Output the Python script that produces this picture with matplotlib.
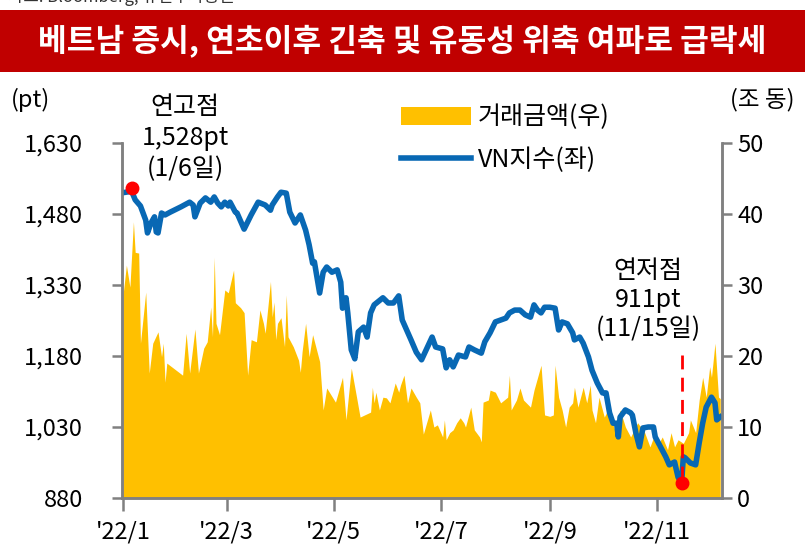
import numpy as np
import pandas as pd
import matplotlib
matplotlib.use("Agg")
import matplotlib.pyplot as plt
from matplotlib.patches import Patch, Rectangle
from matplotlib.lines import Line2D

plt.rcParams['font.family'] = ['Noto Sans CJK KR', 'DejaVu Sans']

# ── DATA (day = days since 2022-01-01) ───────────────────────────────────────
vn_day = [0, 5, 7, 10, 13, 14, 16, 18, 19, 20, 22, 24, 27, 33, 38, 40, 41, 44, 47, 50,
          52, 54, 56, 58, 60, 61, 64, 65, 69, 73, 77, 81, 84, 85, 88, 90, 93, 95, 98, 101,
          104, 106, 108, 109, 112, 114, 116, 119, 122, 124, 125, 127, 128, 130, 132, 134,
          137, 139, 141, 143, 148, 151, 154, 157, 159, 162, 164, 167, 170, 172, 176, 178,
          182, 184, 186, 188, 191, 195, 197, 200, 204, 206, 209, 212, 215, 218, 220, 223,
          226, 229, 232, 234, 236, 238, 240, 243, 246, 248, 250, 253, 256, 257, 260, 262,
          265, 267, 270, 273, 275, 277, 279, 281, 282, 283, 286, 289, 290, 292, 294, 296,
          299, 302, 303, 306, 309, 311, 314, 316, 318, 319, 320, 323, 326, 328, 330, 332,
          335, 337, 338, 340]
vn_val = [1525, 1528, 1510, 1497, 1467, 1440, 1461, 1474, 1442, 1440, 1482, 1478, 1484, 1495,
          1505, 1499, 1474, 1503, 1514, 1505, 1516, 1503, 1495, 1505, 1497, 1505, 1484, 1482,
          1448, 1478, 1505, 1499, 1488, 1499, 1516, 1526, 1524, 1484, 1461, 1478, 1446, 1415,
          1376, 1379, 1313, 1357, 1368, 1357, 1362, 1336, 1281, 1303, 1271, 1193, 1174, 1231,
          1241, 1220, 1271, 1288, 1303, 1292, 1292, 1307, 1256, 1231, 1214, 1188, 1172, 1188,
          1220, 1199, 1195, 1155, 1172, 1157, 1182, 1178, 1199, 1193, 1186, 1210, 1229, 1252,
          1256, 1260, 1271, 1277, 1277, 1267, 1262, 1288, 1277, 1271, 1283, 1283, 1281, 1235,
          1252, 1248, 1229, 1214, 1220, 1207, 1178, 1150, 1123, 1102, 1102, 1060, 1038, 1038,
          1009, 1051, 1066, 1060, 1055, 1017, 988, 1028, 1030, 1030, 1009, 988, 967, 950,
          956, 924, 911, 967, 965, 954, 950, 996, 1038, 1072, 1093, 1081, 1045, 1051]

vol_day = [0, 2, 4, 6, 7, 9, 10, 13, 15, 17, 20, 22, 23, 24, 25, 34, 36, 38, 41, 43, 46,
           48, 50, 51, 52, 53, 55, 58, 60, 63, 64, 67, 69, 71, 73, 76, 78, 80, 81, 84, 85,
           86, 87, 88, 90, 92, 93, 94, 97, 100, 101, 102, 104, 106, 108, 112, 114, 116, 121,
           125, 127, 130, 133, 135, 141, 142, 143, 144, 146, 148, 150, 152, 155, 157, 158,
           160, 162, 164, 167, 169, 171, 175, 177, 179, 182, 183, 184, 186, 188, 190, 192,
           194, 195, 198, 200, 203, 204, 205, 208, 209, 212, 215, 217, 219, 220, 221, 224,
           226, 228, 232, 234, 238, 240, 243, 245, 246, 248, 250, 252, 254, 256, 257, 259,
           262, 264, 266, 267, 269, 271, 274, 276, 280, 283, 286, 289, 293, 297, 300, 303,
           304, 307, 310, 312, 314, 316, 319, 322, 323, 326, 328, 330, 332, 334, 335, 337,
           338, 339, 340]
vol_val = [28.4, 32.8, 29.7, 38.9, 34.6, 34.5, 21.8, 29.0, 17.6, 21.8, 23.4, 19.9, 21.8,
           16.3, 19.0, 17.3, 23.2, 17.6, 23.8, 17.6, 21.1, 22.0, 26.9, 22.7, 33.9, 24.6, 23.0,
           29.3, 28.9, 32.1, 27.5, 26.8, 26.1, 17.3, 22.3, 22.0, 26.5, 24.6, 23.2, 30.5, 25.5,
           27.6, 22.3, 24.6, 25.4, 21.3, 28.6, 22.7, 21.3, 19.4, 17.7, 20.6, 24.6, 19.9, 23.0,
           19.2, 12.4, 15.5, 13.5, 17.0, 11.0, 18.3, 14.2, 11.4, 12.1, 15.6, 13.4, 14.9, 12.4,
           14.2, 14.1, 13.4, 16.2, 14.9, 15.9, 17.3, 13.4, 15.5, 14.2, 13.4, 9.0, 12.4, 10.0,
           10.3, 8.6, 11.0, 8.2, 9.2, 9.6, 10.6, 11.3, 10.6, 10.0, 12.8, 9.6, 8.6, 7.9, 13.5,
           13.8, 15.2, 14.9, 13.4, 13.8, 14.2, 17.3, 12.4, 13.8, 15.5, 13.8, 12.8, 15.2, 18.7,
           11.7, 11.5, 11.7, 18.7, 14.2, 12.4, 10.0, 12.8, 13.4, 15.6, 12.8, 15.6, 13.4, 15.9,
           12.4, 10.6, 14.2, 11.4, 12.4, 9.6, 12.4, 10.0, 8.6, 10.6, 9.2, 7.2, 9.2, 7.2, 8.6,
           6.8, 9.2, 7.2, 8.2, 7.7, 9.2, 11.0, 9.2, 13.8, 17.0, 14.2, 18.5, 17.0, 21.8, 18.0,
           14.2, 14.0]

HIGH_DAY, HIGH_VAL = 5, 1528
LOW_DAY, LOW_VAL = 318, 911

TITLE = "베트남 증시, 연초이후 긴축 및 유동성 위축 여파로 급락세"
TICK_MONTHS = [1, 3, 5, 7, 9, 11]
LEFT_TICKS = [880, 1030, 1180, 1330, 1480, 1630]
RIGHT_TICKS = [0, 10, 20, 30, 40, 50]

BASE = pd.Timestamp("2022-01-01")
def to_dates(days):
    return BASE + pd.to_timedelta(days, unit="D")

vn_dates = to_dates(vn_day)
vol_dates = to_dates(vol_day)

GOLD = "#FFC000"
BLUE = "#0868B4"
GRAY = "#808080"

# ── FIGURE ───────────────────────────────────────────────────────────────────
W, H = 805, 554
fig = plt.figure(figsize=(W/100, H/100), dpi=100)

# source line (cut off at top of picture, as in the original)
fig.text(8/W, 1 - 2/H, "자료: Bloomberg, 유진투자증권", fontsize=12, color="#333333",
         ha="left", va="baseline")

# red title banner
fig.patches.append(Rectangle((0, 1 - 72/H), 1, 62/H, transform=fig.transFigure,
                             facecolor="#C00000", edgecolor="none", zorder=0))
fig.text(0.5, 1 - 42/H, TITLE, fontsize=22.5, fontweight="bold", color="white",
         ha="center", va="center")

ax = fig.add_axes([122/W, 1 - 498/H, 600/W, 355/H])
ax2 = ax.twinx()

ax2.fill_between(vol_dates, vol_val, 0, color=GOLD, lw=0)
ax2.set_ylim(0, 50)
ax2.set_yticks(RIGHT_TICKS)

ax.plot(vn_dates, vn_val, color=BLUE, lw=4, solid_joinstyle="round")
ax.plot([to_dates([LOW_DAY])[0]] * 2, [1182, LOW_VAL], color="#FF0000", lw=2,
        ls=(0, (5, 3)), zorder=4)
ax.plot(to_dates([HIGH_DAY]), [HIGH_VAL + 6], "o", color="#FF0000", ms=9, zorder=5)
ax.plot(to_dates([LOW_DAY]), [LOW_VAL], "o", color="#FF0000", ms=9, zorder=5)
ax.set_ylim(880, 1630)
ax.set_yticks(LEFT_TICKS)
ax.set_yticklabels([f"{v:,}" for v in LEFT_TICKS])

ax.set_zorder(ax2.get_zorder() + 1)
ax.patch.set_visible(False)

ax.set_xlim(BASE - pd.Timedelta(hours=12), BASE + pd.Timedelta(days=341))
ax.set_xticks([pd.Timestamp(2022, m, 1) for m in TICK_MONTHS])
ax.set_xticklabels([f"'22/{m}" for m in TICK_MONTHS])

for a in (ax, ax2):
    a.spines["top"].set_visible(False)
    for s in ("left", "right", "bottom"):
        a.spines[s].set_color(GRAY)
        a.spines[s].set_linewidth(1.8)
ax.tick_params(axis="y", length=7, width=1.8, color=GRAY, labelsize=17, pad=21)
ax.tick_params(axis="x", length=9, width=1.8, color=GRAY, labelsize=17, pad=7)
ax2.tick_params(axis="y", length=7, width=1.8, color=GRAY, labelsize=17, pad=4)

# axis unit labels
fig.text(30/W, 1 - 100/H, "(pt)", fontsize=17, ha="center", va="center")
fig.text(762/W, 1 - 100/H, "(조 동)", fontsize=17, ha="center", va="center")

# annotations
fig.text(185/W, 1 - 138/H, "연고점\n1,528pt\n(1/6일)", fontsize=18, ha="center",
         va="center", linespacing=1.25)
fig.text(648/W, 1 - 300/H, "연저점\n911pt\n(11/15일)", fontsize=18, ha="center",
         va="center", linespacing=1.15)

# legend
handles = [Patch(facecolor=GOLD, edgecolor="none"), Line2D([0], [0], color=BLUE, lw=4)]
fig.legend(handles, ["거래금액(우)", "VN지수(좌)"], loc="upper left",
           bbox_to_anchor=(378/W, 1 - 82/H), frameon=False, fontsize=18,
           handlelength=2.8, handleheight=0.75, labelspacing=0.65, handletextpad=0.3)

fig.savefig("out.png", dpi=100)
